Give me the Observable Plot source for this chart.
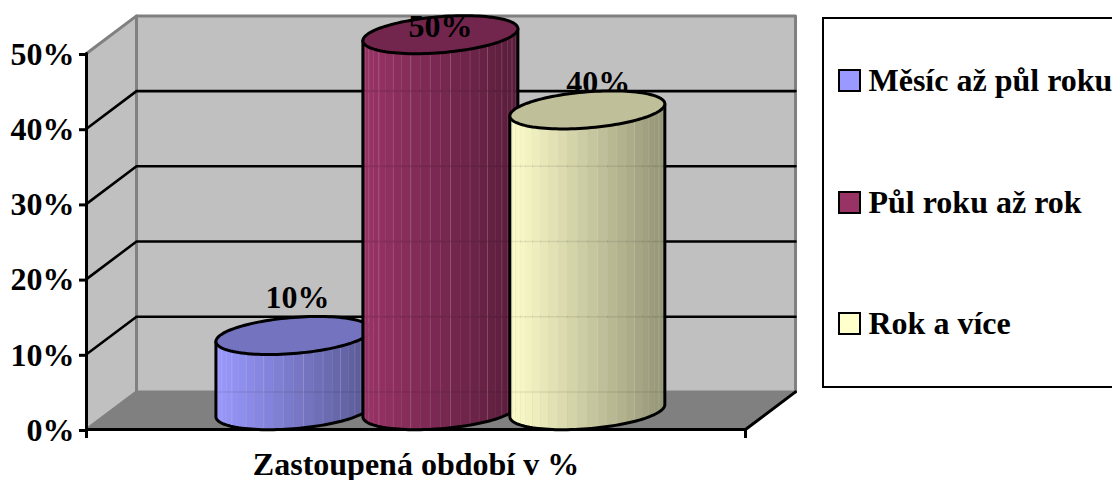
<!DOCTYPE html>
<html lang="cs">
<head>
<meta charset="utf-8">
<script src="https://cdn.jsdelivr.net/npm/d3@7"></script>
<script src="https://cdn.jsdelivr.net/npm/@observablehq/plot@0.6"></script>
<style>
  html, body { margin: 0; padding: 0; background: #fff; overflow: hidden; }
  #chart { position: relative; width: 1112px; height: 480px; overflow: hidden; font-family: "Liberation Serif", serif; font-weight: bold; }
  #legend { position: absolute; left: 821.5px; top: 17px; width: 320px; height: 367px; border: 2.5px solid #000; box-sizing: content-box; }
  #legend .row { position: absolute; left: 14px; display: flex; align-items: center; font-size: 32px; line-height: 1; white-space: nowrap; }
  #legend .swatch { width: 19px; height: 19px; border: 2.5px solid #000; margin-right: 8px; flex: none; }
</style>
</head>
<body>
<div id="chart"></div>
<script>
// Chart values
const categories = ["Měsíc až půl roku", "Půl roku až rok", "Rok a více"];
const values = [10, 50, 40];
const yTicks = [0, 10, 20, 30, 40, 50];
const colors = ["#9999ff", "#993366", "#ffffcc"];
const xTitle = "Zastoupená období v %";

// Pseudo-3D layout, in scale units: x spans the front floor edge, y is percent
const depthX = 0.0759, depthY = 5;
const centers = [0.314, 0.537, 0.760];
const radiusX = 0.1176, tiltY = 0.8, radiusY = 2.4;
const baseY = depthY / 2;
const stripCount = 24;

const line = (points, options) => Plot.line(points, {x: "x", y: "y", curve: "linear", ...options});
const seg = (x1, y1, x2, y2) => [{x: x1, y: y1}, {x: x2, y: y2}];

// Point on a tilted ellipse; t in 0..PI walks the front half from right to left
const rim = (cx, cy, t) => ({
  x: cx + radiusX * Math.cos(t),
  y: cy + tiltY * Math.cos(t) - radiusY * Math.sin(t)
});

function cylinder(i) {
  const cx = centers[i], top = values[i] + baseY, base = baseY, color = d3.rgb(colors[i]);
  const shade = (u) => d3.rgb(color.r * (1 - 0.42 * u), color.g * (1 - 0.42 * u), color.b * (1 - 0.42 * u)).formatHex();
  const marks = [];
  const steps = d3.range(stripCount + 1).map((k) => Math.PI - (k * Math.PI) / stripCount);
  // Body: narrow facets from the left silhouette to the right one
  for (let k = 0; k < stripCount; k++) {
    const a = rim(cx, base, steps[k]), b = rim(cx, base, steps[k + 1]);
    const c = rim(cx, top, steps[k + 1]), d = rim(cx, top, steps[k]);
    const u = ((a.x + b.x) / 2 - (cx - radiusX)) / (2 * radiusX);
    marks.push(line([a, b, c, d, a], {fill: shade(u), stroke: shade(u), strokeWidth: 0.5}));
    if (k > 0) marks.push(line([a, d], {stroke: "#fff", strokeOpacity: [0.08, 0.18, 0.05, 0.13][k % 4], strokeWidth: 1}));
  }
  // Wall lines and the floor edge showing faintly through the body
  for (const g of [0, 10, 20, 30, 40]) {
    if (g + depthY < top - 1) {
      const span = seg(cx - radiusX, g + depthY, cx + radiusX, g + depthY);
      marks.push(line(span, {stroke: "#000", strokeOpacity: 0.08, strokeWidth: 1.5}));
    }
  }
  // Outline of the body, then the darker lid
  const front = d3.range(0, 61).map((k) => rim(cx, base, Math.PI - (k * Math.PI) / 60));
  marks.push(line([rim(cx, top, Math.PI), ...front, rim(cx, top, 0)], {stroke: "#000", strokeWidth: 3}));
  const lid = d3.range(0, 121).map((k) => rim(cx, top, (k * 2 * Math.PI) / 120));
  marks.push(line(lid, {fill: d3.rgb(color.r * 0.75, color.g * 0.75, color.b * 0.75).formatHex(), stroke: "#000", strokeWidth: 3}));
  return marks;
}

const valueLabel = (i, dx, dy) => Plot.text([values[i]], {
  x: () => centers[i], y: (d) => d, text: (d) => `${d}%`, dx, dy,
  lineAnchor: "bottom", fontSize: 32, fontWeight: "bold", fill: "#000"
});

const wallLevels = yTicks.slice(1, -1);

const plot = Plot.plot({
  width: 1112,
  height: 480,
  marginLeft: 86,
  marginRight: 367,
  marginTop: 53,
  marginBottom: 51,
  x: {domain: [0, 1]},
  y: {domain: [0, 50]},
  style: {fontFamily: "'Liberation Serif', serif", fontWeight: "bold", fontSize: "32px", background: "transparent", color: "#000"},
  marks: [
    // Side wall, back wall and floor
    line([{x: 0, y: 0}, {x: depthX, y: depthY}, {x: depthX, y: 50 + depthY}, {x: 0, y: 50}, {x: 0, y: 0}], {fill: "#c0c0c0", stroke: "#808080", strokeWidth: 3}),
    line([{x: depthX, y: depthY}, {x: 1 + depthX, y: depthY}, {x: 1 + depthX, y: 50 + depthY}, {x: depthX, y: 50 + depthY}, {x: depthX, y: depthY}], {fill: "#c0c0c0", stroke: "#808080", strokeWidth: 3}),
    line([{x: 0, y: 0}, {x: 1, y: 0}, {x: 1 + depthX, y: depthY}, {x: depthX, y: depthY}, {x: 0, y: 0}], {fill: "#808080", stroke: "#808080", strokeWidth: 1}),
    // Grid lines running along both walls
    ...wallLevels.map((g) => line([{x: 0, y: g}, {x: depthX, y: g + depthY}, {x: 1 + depthX, y: g + depthY}], {stroke: "#000", strokeWidth: 2.6})),
    // Axis lines
    line(seg(0, 0, 0, 50), {stroke: "#000", strokeWidth: 3}),
    line([{x: 0, y: 0}, {x: 1, y: 0}, {x: 1 + depthX, y: depthY}], {stroke: "#000", strokeWidth: 3}),
    Plot.axisY({ticks: yTicks, tickFormat: (d) => `${d}%`, tickSize: 7, tickPadding: 5, strokeWidth: 3, label: null, fontSize: 32, fontWeight: "bold", anchor: "left", dy: 1}),
    Plot.axisX({ticks: [0, 1], tickFormat: () => "", tickSize: 9, strokeWidth: 3, label: xTitle, labelAnchor: "center", labelArrow: "none", labelOffset: 45, fontSize: 32, fontWeight: "bold", anchor: "bottom"}),
    // Cylinders back-to-front order, with labels layered between them
    ...cylinder(0),
    valueLabel(0, 4, -46),
    ...cylinder(1),
    valueLabel(1, 0, -17),
    valueLabel(2, 11, -36),
    ...cylinder(2)
  ]
});

const chart = document.getElementById("chart");
chart.appendChild(plot);

// Legend box overlapping the right edge of the page
const legend = document.createElement("div");
legend.id = "legend";
const rowTops = [45, 167, 288];
categories.forEach((name, i) => {
  const row = document.createElement("div");
  row.className = "row";
  row.style.top = `${rowTops[i]}px`;
  const swatch = document.createElement("span");
  swatch.className = "swatch";
  swatch.style.background = colors[i];
  row.append(swatch, name);
  legend.appendChild(row);
});
chart.appendChild(legend);
</script>
</body>
</html>
